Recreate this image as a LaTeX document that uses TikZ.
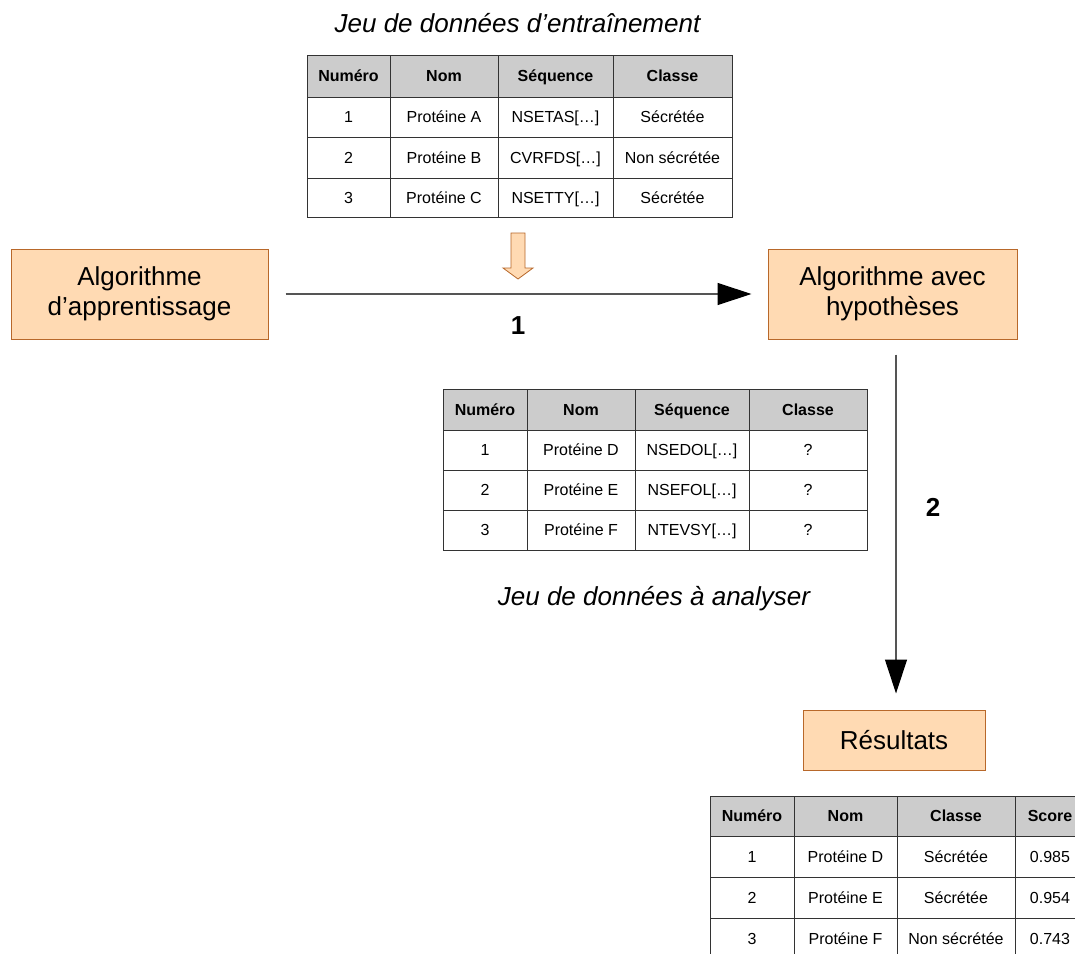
\documentclass[tikz,border=0pt]{standalone}
\usepackage{fontspec}
\setmainfont{Liberation Sans}
\usetikzlibrary{arrows.meta}

\definecolor{peach}{RGB}{255,218,179}
\definecolor{peachline}{RGB}{184,104,42}
\definecolor{hdrgrey}{RGB}{204,204,204}
\definecolor{gridline}{RGB}{51,51,51}
\definecolor{connline}{RGB}{85,85,85}

% one table cell: style, name, x1, y1, x2, y2, text
\newcommand{\tcell}[7]{%
  \node[#1, minimum width={(#5-#3)*1pt}, minimum height={(#6-#4)*1pt}]
    (#2) at ({(#3+#5)/2},{(#4+#6)/2}) {#7};}
% one table row over the column edges \xa..\xe: style, name, y1, y2, four texts
\newcommand{\trow}[8]{%
  \tcell{#1}{#2-1}{\xa}{#3}{\xb}{#4}{#5}%
  \tcell{#1}{#2-2}{\xb}{#3}{\xc}{#4}{#6}%
  \tcell{#1}{#2-3}{\xc}{#3}{\xd}{#4}{#7}%
  \tcell{#1}{#2-4}{\xd}{#3}{\xe}{#4}{#8}}

\tikzset{
  tcellbox/.style={draw=gridline, line width=1pt, inner sep=0pt, outer sep=0pt,
    text height=12pt, text depth=0.5pt,
    font=\fontsize{16}{18}\selectfont},
  thead/.style={tcellbox, fill=hdrgrey, font=\fontsize{16}{18}\selectfont\bfseries},
  procbox/.style={draw=peachline, fill=peach, line width=1pt, inner sep=0pt,
    align=center, font=\fontsize{26}{30}\selectfont},
  caption/.style={font=\fontsize{26}{30}\selectfont\itshape, inner sep=0pt, anchor=base},
  steplabel/.style={font=\fontsize{26}{30}\selectfont\bfseries, inner sep=0pt},
  flow/.style={draw=connline, line width=1.2pt,
    -{Triangle[length=34pt,width=22pt,fill=black,color=black]}},
}

\begin{document}
\begin{tikzpicture}[x=1pt,y=-1pt]
\useasboundingbox (0,0) rectangle (1075,953);
\fill[white] (0,0) rectangle (1075,953);

% processing boxes
\node[procbox, minimum width=257pt, minimum height=90pt] (learn) at (139.5,294)
  {Algorithme\\d’apprentissage};
\node[procbox, minimum width=249pt, minimum height=90pt] (model) at (892.5,294)
  {Algorithme avec\\hypothèses};
\node[procbox, minimum width=182pt, minimum height=60pt] (res) at (894,740)
  {Résultats};

% training data
\node[caption] (traincap) at (517.5,32) {Jeu de données d’entraînement};
\def\xa{307}\def\xb{390}\def\xc{498}\def\xd{613}\def\xe{732}
\trow{thead}{ta0}{55}{97}{Numéro}{Nom}{Séquence}{Classe}
\trow{tcellbox}{ta1}{97}{137}{1}{Protéine A}{NSETAS[…]}{Sécrétée}
\trow{tcellbox}{ta2}{137}{178}{2}{Protéine B}{CVRFDS[…]}{Non sécrétée}
\trow{tcellbox}{ta3}{178}{217}{3}{Protéine C}{NSETTY[…]}{Sécrétée}

% data fed into the learning step
\draw[draw=peachline, fill=peach, line width=0.8pt, line join=miter]
  (511,233) -- (525,233) -- (525,268) -- (533,268) -- (518,279)
  -- (503,268) -- (511,268) -- cycle;

% step 1
\draw[flow, shorten <=17pt, shorten >=16pt] (learn.east) -- (model.west);
\node[steplabel] (one) at (518,326) {1};

% data to analyse
\def\xa{443}\def\xb{527}\def\xc{635}\def\xd{749}\def\xe{867}
\trow{thead}{tb0}{389}{430}{Numéro}{Nom}{Séquence}{Classe}
\trow{tcellbox}{tb1}{430}{470}{1}{Protéine D}{NSEDOL[…]}{?}
\trow{tcellbox}{tb2}{470}{510}{2}{Protéine E}{NSEFOL[…]}{?}
\trow{tcellbox}{tb3}{510}{550}{3}{Protéine F}{NTEVSY[…]}{?}
\node[caption] (testcap) at (654,605) {Jeu de données à analyser};

% step 2
\draw[flow, shorten <=15pt, shorten >=16pt] ([xshift=3.5pt]model.south) -- ([xshift=2pt]res.north);
\node[steplabel] (two) at (933,507) {2};

% results
\def\xa{710}\def\xb{794}\def\xc{897}\def\xd{1015}\def\xe{1085}
\trow{thead}{tc0}{796}{836}{Numéro}{Nom}{Classe}{Score}
\trow{tcellbox}{tc1}{836}{877}{1}{Protéine D}{Sécrétée}{0.985}
\trow{tcellbox}{tc2}{877}{918}{2}{Protéine E}{Sécrétée}{0.954}
\trow{tcellbox}{tc3}{918}{959}{3}{Protéine F}{Non sécrétée}{0.743}
\end{tikzpicture}
\end{document}
